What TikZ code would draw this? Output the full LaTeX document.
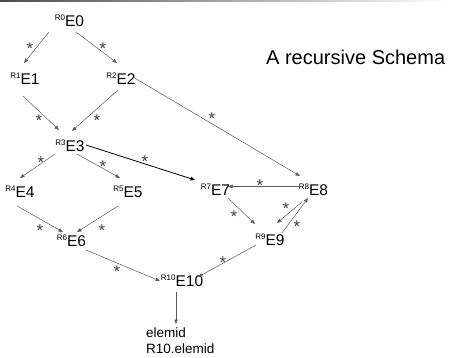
\documentclass[tikz,border=0pt]{standalone}
\usepackage{fontspec}
\setmainfont{Liberation Sans}
\usetikzlibrary{arrows.meta}
\newcommand\rlab[1]{\raisebox{0.42em}{\fontsize{8}{8}\selectfont #1}}
\tikzset{
  ent/.style={anchor=base,inner sep=0pt,font=\fontsize{15.5}{16}\selectfont},
  lnk/.style={draw=black!65,line width=0.5pt,-{Triangle[length=4.5pt,width=3.5pt]}},
  bold/.style={draw=black,line width=0.8pt},
  st/.style={inner sep=0pt,font=\fontsize{17}{17}\selectfont,text=black!75},
  plain/.style={anchor=base west,inner sep=0pt,font=\fontsize{13.5}{16}\selectfont},
}
\begin{document}
\begin{tikzpicture}[x=1pt,y=-1pt]
\useasboundingbox (0,0) rectangle (450,358);
\shade[left color=black!70,right color=white] (0,0) rectangle (450,1.3);
\node[anchor=base west,inner sep=0pt,font=\fontsize{20}{21}\selectfont] (title) at (266,65) {A recursive Schema};
\node[ent] (e0) at (69.5,27) {\rlab{R0}E0};
\node[ent] (e1) at (25,85) {\rlab{R1}E1};
\node[ent] (e2) at (121,85) {\rlab{R2}E2};
\node[ent] (e3) at (70,152) {\rlab{R3}E3};
\node[ent] (e4) at (20,198) {\rlab{R4}E4};
\node[ent] (e5) at (128,198) {\rlab{R5}E5};
\node[ent] (e6) at (71.5,247) {\rlab{R6}E6};
\node[ent] (e7) at (215.5,196) {\rlab{R7}E7};
\node[ent] (e8) at (313.5,196) {\rlab{R8}E8};
\node[ent] (e9) at (270,246) {\rlab{R9}E9};
\node[ent] (e10) at (182,287) {\rlab{R10}E10};
\node[plain] (el1) at (146,337) {elemid};
\node[plain] (el2) at (146,353) {R10.elemid};
% connectors
\draw[lnk] ([shift={(-20.5,5)}]e0.base) -- ([shift={(-1,-22)}]e1.base);
\draw[lnk] ([shift={(6.5,5)}]e0.base) -- ([shift={(-4,-22)}]e2.base);
\draw[lnk] ([shift={(-2,11)}]e1.base) -- ([shift={(-11,-22)}]e3.base);
\draw[lnk] ([shift={(-3,5)}]e2.base) -- ([shift={(2,-21)}]e3.base);
\draw[lnk] ([shift={(12,-8)}]e2.base) -- ([shift={(-13.5,-20)}]e8.base);
\draw[lnk] ([shift={(-15,2)}]e3.base) -- ([shift={(0,-20)}]e4.base);
\draw[lnk] ([shift={(7,2)}]e3.base) -- ([shift={(-8,-20)}]e5.base);
\draw[lnk,bold] ([shift={(16,-7)}]e3.base) -- ([shift={(-20.5,-16)}]e7.base);
\draw[lnk] ([shift={(-14.5,-9.5)}]e8.base) -- ([shift={(12.5,-9.5)}]e7.base);
\draw[lnk] ([shift={(12.5,2)}]e7.base) -- ([shift={(-15,-22)}]e9.base);
\draw[lnk] ([shift={(-11.5,6)}]e8.base) -- ([shift={(7,-23)}]e9.base);
\draw[lnk] ([shift={(12,-13)}]e9.base) -- ([shift={(-5.5,2)}]e8.base);
\draw[lnk] ([shift={(-14,-1)}]e9.base) -- ([shift={(16,-10)}]e10.base);
\draw[lnk] ([shift={(14.5,3)}]e6.base) -- ([shift={(-22,-6)}]e10.base);
\draw[lnk] ([shift={(-3,8)}]e4.base) -- ([shift={(-8.5,-15)}]e6.base);
\draw[lnk] ([shift={(-10,8)}]e5.base) -- ([shift={(5.5,-15)}]e6.base);
\draw[lnk] ([shift={(-6,5)}]e10.base) -- ([shift={(30,-13)}]el1.base west);
% stars
\node[st] (s1) at (30,49) {*};
\node[st] (s2) at (103,49) {*};
\node[st] (s3) at (39,121) {*};
\node[st] (s4) at (97,121) {*};
\node[st] (s5) at (212,119) {*};
\node[st] (s6) at (41,163) {*};
\node[st] (s7) at (103,167) {*};
\node[st] (s8) at (145,162) {*};
\node[st] (s9) at (260,186) {*};
\node[st] (s10) at (234,217) {*};
\node[st] (s11) at (286,209) {*};
\node[st] (s12) at (297,227) {*};
\node[st] (s13) at (223,263) {*};
\node[st] (s14) at (117,272) {*};
\node[st] (s15) at (40,231) {*};
\node[st] (s16) at (102,231) {*};
\end{tikzpicture}
\end{document}
